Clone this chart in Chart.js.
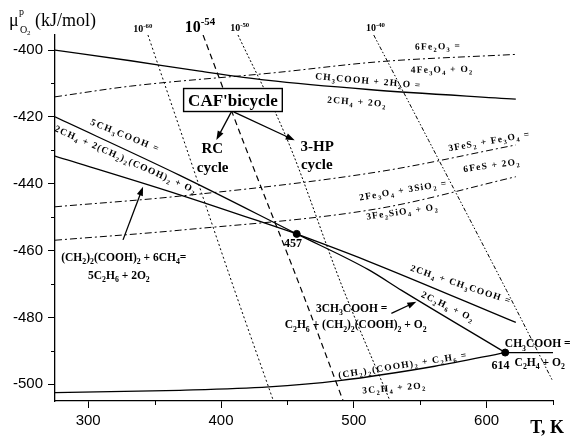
<!DOCTYPE html>
<html>
<head>
<meta charset="utf-8">
<script src="https://cdn.jsdelivr.net/npm/chart.js@4.4.1/dist/chart.umd.min.js"></script>
<style>
  html, body { margin: 0; padding: 0; background: #fff; }
</style>
</head>
<body>
<canvas id="chart" width="570" height="437"></canvas>
<script>
// Axis ticks
const xTicks = [300, 400, 500, 600];
const yTicks = [-400, -420, -440, -460, -480, -500];
const xMinor = [350, 450, 550, 650];
const yMinor = [-410, -430, -450, -470, -490];

// CH3COOH + 2H2O = 2CH4 + 2O2
const acetateT = [275, 332, 384, 434, 511, 622];
const acetateMu = [-400, -403.2, -406.3, -409, -411.8, -414.7];
// 6Fe2O3 = 4Fe3O4 + O2
const hematiteT = [275, 332, 440, 519, 622];
const hematiteMu = [-414, -410.8, -406.8, -403.5, -401.3];
// 5CH3COOH = 2CH4 + 2(CH2)2(COOH)2 + O2
const fiveAcT = [275, 369, 457];
const fiveAcMu = [-420, -437.5, -455];
// (CH2)2(COOH)2 + 6CH4 = 5C2H6 + 2O2
const succT = [275, 369, 457];
const succMu = [-431.7, -443.3, -455];
// 2CH4 + CH3COOH = 2C2H6 + O2
const ethaneT = [457, 511, 622];
const ethaneMu = [-455, -463.2, -481.5];
// 3CH3COOH = C2H6 + (CH2)2(COOH)2 + O2
const threeAcT = [457, 511, 536, 614];
const threeAcMu = [-455, -465.7, -471.9, -490.5];
// 3FeS2 + Fe3O4 = 6FeS + 2O2
const pyriteT = [275, 369, 519, 622];
const pyriteMu = [-446.9, -443.7, -436.4, -428.4];
// 2Fe3O4 + 3SiO2 = 3Fe2SiO4 + O2
const fayaliteT = [275, 369, 519, 622];
const fayaliteMu = [-456.9, -453.9, -447.4, -437.9];
// (CH2)2(COOH)2 + C2H6 = 3C2H4 + 2O2
const ethyleneT = [275, 369, 436, 489, 561, 614];
const ethyleneMu = [-502.5, -501.8, -500.8, -498.9, -494.6, -490.5];
// CH3COOH = C2H4 + O2
const acEthT = [614, 650];
const acEthMu = [-490.5, -490.5];

// pressure lines 10^-60, 10^-54, 10^-50, 10^-40
const p60T = [345, 374, 410, 439.5];
const p60Mu = [-395.5, -429.4, -471.6, -505];
const p54T = [386.5, 416.3, 460.1, 492];
const p54Mu = [-395.5, -426.9, -471.3, -505];
const p50T = [412.8, 450, 491.3, 527.3];
const p50Mu = [-395.5, -426.9, -470.8, -505];
const p40T = [515, 556.3, 615, 649.5];
const p40Mu = [-395.5, -427, -471.9, -498.8];

// triple points
const tripleT = [457, 614];
const tripleMu = [-455, -490.5];

const pts = (xs, ys) => xs.map((v, i) => ({ x: v, y: ys[i] }));

function line(xs, ys, dash, width) {
    return {
        data: pts(xs, ys),
        showLine: true,
        borderColor: '#000',
        borderWidth: width || 1.3,
        borderDash: dash || [],
        pointRadius: 0,
        cubicInterpolationMode: 'monotone',
        fill: false
    };
}

const DASHDOT = [7, 3, 2, 3];

// text notes: [text, T, mu, rotation, size, letter spacing]
const notes = [
    ['6Fe_2O_3 =', 563, -398.8, -1, 9.5, 1.2],
    ['4Fe_3O_4 + O_2', 566, -405.7, -1, 9.5, 1.2],
    ['CH_3COOH + 2H_2O =', 510.5, -409.1, 5, 9.5, 1.2],
    ['2CH_4 + 2O_2', 502, -415.4, 4, 9.5, 1.2],
    ['3FeS_2 + Fe_3O_4 =', 601.6, -427.2, -10, 9.5, 1.2],
    ['6FeS + 2O_2', 603.5, -434.4, -8, 9.5, 1.2],
    ['2Fe_3O_4 + 3SiO_2 =', 536.8, -441.9, -9.5, 9.5, 1.2],
    ['3Fe_2SiO_4 + O_2', 536.1, -448.3, -8, 9.5, 1.2],
    ['5CH_3COOH =', 327.5, -425.4, 22, 9.5, 1.5],
    ['2CH_4 + 2(CH_2)_2(COOH)_2 + O_2', 328, -432.6, 24, 9.5, 1.2],
    ['2CH_4 + CH_3COOH =', 580.3, -470, 18.5, 9.5, 1.2],
    ['2C_2H_6 + O_2', 570.7, -476.6, 26, 9.5, 1.2],
    ['(CH_2)_2(COOH)_2 + C_2H_6 =', 536.4, -494.2, -9, 9.5, 1.2],
    ['3C_2H_4 + 2O_2', 530, -501, -5, 9.5, 1.2],
    ['(CH_2)_2(COOH)_2 + 6CH_4=', 326.8, -461.8, 0, 11.5, 0],
    ['5C_2H_6 + 2O_2', 323.1, -467.3, 0, 11.5, 0],
    ['3CH_3COOH =', 498.4, -477.2, 0, 11.5, 0],
    ['C_2H_6 + (CH_2)_2(COOH)_2 + O_2', 501.4, -482.1, 0, 11.5, 0],
    ['CH_3COOH =', 638.5, -487.8, 0, 11.5, 0],
    ['C_2H_4 + O_2', 640, -493.3, 0, 11.5, 0],
    ['457', 454.2, -457.8, 0, 12, 0],
    ['614', 610.5, -494.2, 0, 12, 0],
    ['10^{-60}', 341.1, -393.6, 0, 10, 0],
    ['10^{-54}', 384.1, -392.9, 0, 16, 0],
    ['10^{-50}', 414.1, -393.4, 0, 10, 0],
    ['10^{-40}', 516.3, -393.2, 0, 10, 0],
    ['RC', 393.4, -429.3, 0, 15, 0],
    ['cycle', 393.7, -435.1, 0, 15, 0],
    ['3-HP', 472.4, -428.6, 0, 15, 0],
    ['cycle', 472.1, -434.1, 0, 15, 0]
];

// arrows: [fromT, fromMu, toT, toMu]
const arrows = [
    [326.2, -456.8, 341.3, -440.9],
    [528.3, -478.8, 547.1, -475.3],
    [407.8, -418.5, 396.5, -426.9],
    [409.5, -418.5, 455.5, -427.0]
];

const SERIF = '"Liberation Serif", "Times New Roman", serif';
const SANS = '"Liberation Sans", Arial, sans-serif';

function parseRich(s) {
    const out = [];
    let i = 0;
    while (i < s.length) {
        const c = s[i];
        if (c === '_' || c === '^') {
            let j = i + 1, tok = '';
            if (s[j] === '{') { j++; while (s[j] !== '}') tok += s[j++]; j++; }
            else tok = s[j++];
            out.push({ t: tok, k: c === '_' ? 'sub' : 'sup' });
            i = j;
        } else {
            out.push({ t: c, k: 'n' });
            i++;
        }
    }
    return out;
}

function drawRich(ctx, s, cx, cy, rot, size, sp, weight) {
    const parts = parseRich(s);
    const fontFor = k => `${weight} ${k === 'n' ? size : (size * 0.68).toFixed(1)}px ${SERIF}`;
    let w = 0;
    parts.forEach(p => {
        ctx.font = fontFor(p.k);
        p.w = ctx.measureText(p.t).width + sp;
        w += p.w;
    });
    w -= sp;
    ctx.save();
    ctx.translate(cx, cy);
    ctx.rotate(rot * Math.PI / 180);
    ctx.fillStyle = '#000';
    ctx.textAlign = 'left';
    ctx.textBaseline = 'alphabetic';
    let xx = -w / 2;
    const base = size * 0.34;
    parts.forEach(p => {
        ctx.font = fontFor(p.k);
        const dy = p.k === 'sub' ? size * 0.28 : (p.k === 'sup' ? -size * 0.42 : 0);
        ctx.fillText(p.t, xx, base + dy);
        xx += p.w;
    });
    ctx.restore();
    return w;
}

function drawArrow(ctx, x1, y1, x2, y2) {
    const a = Math.atan2(y2 - y1, x2 - x1);
    const L = 9, W = 3.2;
    ctx.save();
    ctx.strokeStyle = '#000';
    ctx.fillStyle = '#000';
    ctx.lineWidth = 1.3;
    ctx.beginPath();
    ctx.moveTo(x1, y1);
    ctx.lineTo(x2 - L * 0.8 * Math.cos(a), y2 - L * 0.8 * Math.sin(a));
    ctx.stroke();
    ctx.beginPath();
    ctx.moveTo(x2, y2);
    ctx.lineTo(x2 - L * Math.cos(a) + W * Math.sin(a), y2 - L * Math.sin(a) - W * Math.cos(a));
    ctx.lineTo(x2 - L * Math.cos(a) - W * Math.sin(a), y2 - L * Math.sin(a) + W * Math.cos(a));
    ctx.closePath();
    ctx.fill();
    ctx.restore();
}

const overlay = {
    id: 'overlay',
    afterDraw(chart) {
        const { ctx, chartArea, scales: { x, y } } = chart;
        const px = t => x.getPixelForValue(t);
        const py = m => y.getPixelForValue(m);

        // minor ticks
        ctx.save();
        ctx.strokeStyle = '#000';
        ctx.lineWidth = 1;
        ctx.beginPath();
        xMinor.forEach(v => {
            const xx = Math.round(px(v)) + 0.5;
            ctx.moveTo(xx, chartArea.bottom);
            ctx.lineTo(xx, chartArea.bottom + 4);
        });
        yMinor.forEach(v => {
            const yy = Math.round(py(v)) + 0.5;
            ctx.moveTo(chartArea.left, yy);
            ctx.lineTo(chartArea.left - 4, yy);
        });
        ctx.stroke();
        ctx.restore();

        notes.forEach(([txt, t, m, rot, size, sp]) => {
            drawRich(ctx, txt, px(t), py(m), rot, size, sp, 'bold');
        });

        arrows.forEach(([t1, m1, t2, m2]) => drawArrow(ctx, px(t1), py(m1), px(t2), py(m2)));

        // boxed label
        const bx = px(409), by = py(-414.95);
        ctx.font = `bold 17px ${SERIF}`;
        const bw = ctx.measureText("CAF'bicycle").width + 9;
        ctx.save();
        ctx.fillStyle = '#fff';
        ctx.fillRect(bx - bw / 2, by - 11.5, bw, 23);
        ctx.strokeStyle = '#000';
        ctx.lineWidth = 1.4;
        ctx.strokeRect(bx - bw / 2, by - 11.5, bw, 23);
        ctx.restore();
        drawRich(ctx, "CAF'bicycle", bx, by, 0, 17, 0, 'bold');

        // y axis title
        ctx.save();
        ctx.fillStyle = '#000';
        ctx.textBaseline = 'alphabetic';
        ctx.font = `18px ${SERIF}`;
        ctx.fillText('\u03bc', 9, 26);
        ctx.font = `10px ${SERIF}`;
        ctx.fillText('p', 19, 15);
        ctx.fillText('O', 20, 33);
        ctx.font = `7px ${SERIF}`;
        ctx.fillText('2', 27, 35);
        ctx.font = `18px ${SERIF}`;
        ctx.fillText('(kJ/mol)', 35, 26);
        // x axis title
        ctx.font = `bold 18px ${SERIF}`;
        ctx.textAlign = 'right';
        ctx.fillText('T, K', 564, 433);
        ctx.restore();
    }
};

new Chart(document.getElementById('chart'), {
    type: 'scatter',
    data: {
        datasets: [
            line(acetateT, acetateMu),
            line(hematiteT, hematiteMu, DASHDOT, 1),
            line(fiveAcT, fiveAcMu),
            line(succT, succMu),
            line(ethaneT, ethaneMu),
            line(threeAcT, threeAcMu),
            line(pyriteT, pyriteMu, DASHDOT, 1),
            line(fayaliteT, fayaliteMu, DASHDOT, 1),
            line(ethyleneT, ethyleneMu),
            line(acEthT, acEthMu),
            line(p60T, p60Mu, [2, 2.5], 1),
            line(p54T, p54Mu, [6, 4], 1.2),
            line(p50T, p50Mu, [2, 2], 1),
            line(p40T, p40Mu, [4, 2, 1.5, 2, 1.5, 2], 1),
            {
                data: pts(tripleT, tripleMu),
                showLine: false,
                pointRadius: 3.5,
                pointBackgroundColor: '#000',
                pointBorderColor: '#000'
            }
        ]
    },
    options: {
        responsive: false,
        animation: false,
        events: [],
        layout: { padding: { top: 35, right: 17, left: 0, bottom: 0 } },
        plugins: {
            legend: { display: false },
            tooltip: { enabled: false }
        },
        scales: {
            x: {
                type: 'linear',
                min: 275,
                max: 650,
                afterBuildTicks: s => { s.ticks = xTicks.map(v => ({ value: v })); },
                afterFit: s => { s.height = 36; },
                border: { display: true, color: '#000', width: 1.3 },
                grid: { drawOnChartArea: false, drawTicks: true, tickLength: 7, color: '#000' },
                ticks: { color: '#000', padding: 4, maxRotation: 0, font: { family: SANS, size: 15 } }
            },
            y: {
                type: 'linear',
                min: -505,
                max: -395.5,
                afterBuildTicks: s => { s.ticks = yTicks.map(v => ({ value: v })); },
                afterFit: s => { s.width = 55; },
                border: { display: true, color: '#000', width: 1.3 },
                grid: { drawOnChartArea: false, drawTicks: true, tickLength: 7, color: '#000' },
                ticks: { color: '#000', padding: 5, font: { family: SANS, size: 15 } }
            }
        }
    },
    plugins: [overlay]
});
</script>
</body>
</html>
